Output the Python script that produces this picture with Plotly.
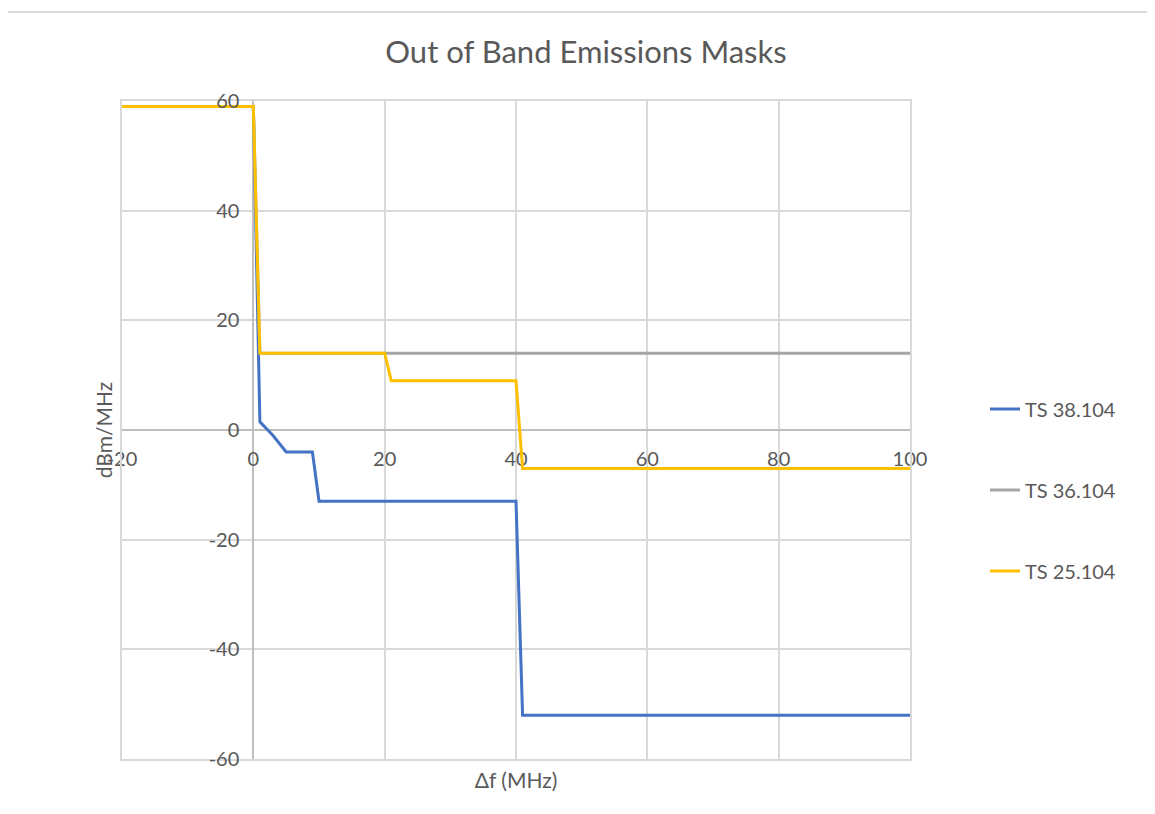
import plotly.graph_objects as go

# ---- data ----
x_38104 = [-20, 0, 1, 3, 5, 9, 10, 40, 41, 100]
y_38104 = [59, 59, 1.5, -1, -4, -4, -13, -13, -52, -52]

x_36104 = [-20, 0, 1, 100]
y_36104 = [59, 59, 14, 14]

x_25104 = [-20, 0, 1, 20, 21, 40, 41, 100]
y_25104 = [59, 59, 14, 14, 9, 9, -7, -7]

series_names = ["TS 38.104", "TS 36.104", "TS 25.104"]
series_colors = ["#4472C4", "#A5A5A5", "#FFC000"]

x_range = [-20, 100]
y_range = [-60, 60]
x_ticks = [-20, 0, 20, 40, 60, 80, 100]
y_ticks = [-60, -40, -20, 0, 20, 40, 60]
x_ticktext = [str(v) for v in x_ticks]
y_ticktext = [str(v) for v in y_ticks]

FONT = "Lato"
TXT = "#595959"

fig = go.Figure()
# invisible helper trace so the crossing axes (x2/y2) get drawn
fig.add_trace(go.Scatter(x=x_range, y=y_range, xaxis="x2", yaxis="y2",
                         mode="markers", marker=dict(opacity=0),
                         showlegend=False, hoverinfo="skip"))
for xs, ys, name, col, grp in zip(
    [x_38104, x_36104, x_25104], [y_38104, y_36104, y_25104],
    series_names, series_colors, ["a", "b", "c"]):
    fig.add_trace(go.Scatter(x=xs, y=ys, mode="lines", name=name,
                             legendgroup=grp,
                             line=dict(color=col, width=3)))

OFF = 8  # page body offset
W, H = 1155 - OFF, 814 - OFF
L, R, T, B = 122 - OFF, 245, 101 - OFF, 55
pw, ph = W - L - R, H - T - B

def px2paper_x(px):
    return (px - OFF - L) / pw

def px2paper_y(py):
    return (H - B - (py - OFF)) / ph

fig.update_layout(
    width=W, height=H,
    margin=dict(l=L, r=R, t=T, b=B),
    paper_bgcolor="white", plot_bgcolor="white",
    font=dict(family=FONT, color=TXT, size=20),
    title=dict(text="Out of Band Emissions Masks", x=px2paper_x(586), xref="paper",
               xanchor="center", y=1 - (52 - OFF) / H, yanchor="middle",
               font=dict(family=FONT, size=31, color=TXT)),
    xaxis=dict(range=x_range, tickvals=x_ticks, showticklabels=False,
               showgrid=True, gridcolor="#d9d9d9", gridwidth=1.5,
               zeroline=True, zerolinecolor="#bfbfbf", zerolinewidth=2,
               showline=True, mirror=True,
               linecolor="#d9d9d9", linewidth=1.5,
               title=dict(text="Δf (MHz)", standoff=14,
                          font=dict(family=FONT, size=21, color=TXT))),
    yaxis=dict(range=y_range, tickvals=y_ticks, showticklabels=False,
               showgrid=True, gridcolor="#d9d9d9", gridwidth=1.5,
               zeroline=True, zerolinecolor="#bfbfbf", zerolinewidth=2,
               showline=True, mirror=True,
               linecolor="#d9d9d9", linewidth=1.5,
               title=dict(text="dBm/MHz", standoff=2,
                          font=dict(family=FONT, size=21, color=TXT))),
    xaxis2=dict(overlaying="x", anchor="free",
                position=(0 - y_range[0]) / (y_range[1] - y_range[0]),
                range=x_range, tickvals=x_ticks, ticktext=x_ticktext,
                side="bottom",
                showgrid=False, zeroline=False, showline=False, ticks="",
                ticklabelstandoff=15, layer="below traces",
                tickfont=dict(family=FONT, size=20, color=TXT)),
    yaxis2=dict(overlaying="y", anchor="free",
                position=(0 - x_range[0]) / (x_range[1] - x_range[0]),
                range=y_range, tickvals=y_ticks, ticktext=y_ticktext,
                side="left",
                showgrid=False, zeroline=False, showline=False, ticks="",
                ticklabelstandoff=14, layer="above traces",
                tickfont=dict(family=FONT, size=20, color=TXT)),
    legend=dict(x=px2paper_x(985), xanchor="left",
                y=px2paper_y(490), yanchor="middle",
                tracegroupgap=52, font=dict(family=FONT, size=20, color=TXT),
                bgcolor="rgba(0,0,0,0)"),
    showlegend=True,
    shapes=[
        dict(type="line", xref="paper", yref="paper",
             x0=px2paper_x(7), x1=px2paper_x(1200),
             y0=px2paper_y(12), y1=px2paper_y(12),
             line=dict(color="#d9d9d9", width=2)),
        dict(type="line", xref="paper", yref="paper",
             x0=px2paper_x(7), x1=px2paper_x(7),
             y0=px2paper_y(12), y1=px2paper_y(860),
             line=dict(color="#d9d9d9", width=2)),
    ],
)

fig.write_html("out.html")
